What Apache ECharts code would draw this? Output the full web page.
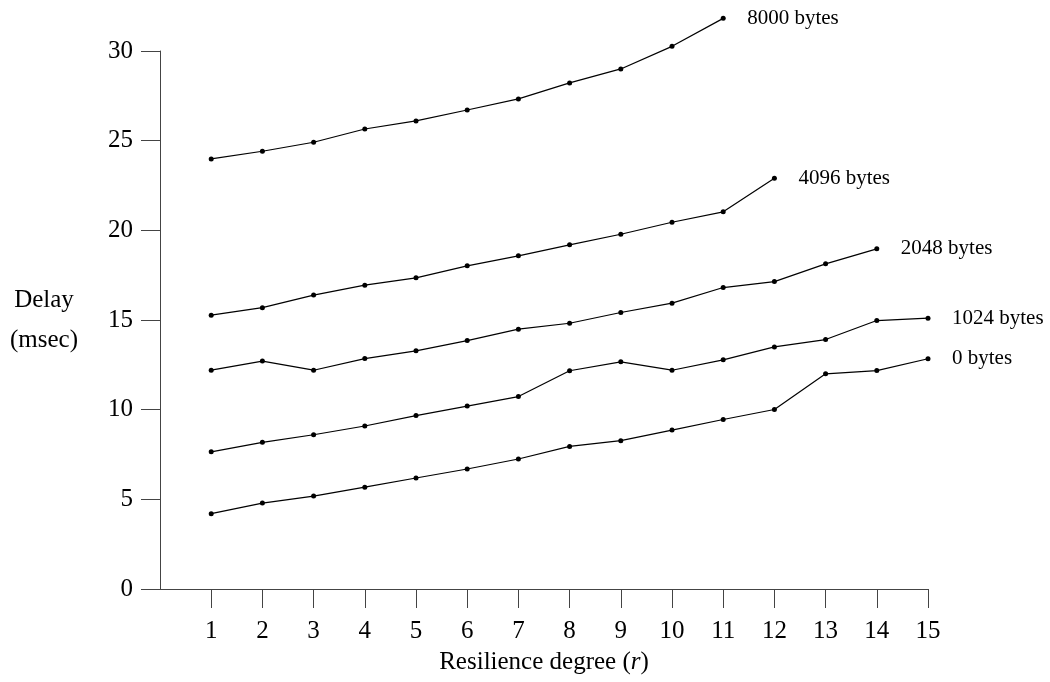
<html>
<head>
<meta charset="utf-8">
<script src="https://cdn.jsdelivr.net/npm/echarts@6/dist/echarts.min.js"></script>
<style>
  body { margin: 0; background: #fff; }
  #container { width: 1050px; height: 682px; }
</style>
</head>
<body>
<div id="container"></div>
<script>
  // resilience degree r
  const degrees = [1, 2, 3, 4, 5, 6, 7, 8, 9, 10, 11, 12, 13, 14, 15];
  const yTicks = [0, 5, 10, 15, 20, 25, 30];

  // delay (msec) per message size
  const bytes0    = [4.20, 4.79, 5.18, 5.68, 6.19, 6.69, 7.25, 7.95, 8.27, 8.86, 9.45, 10.01, 12.00, 12.18, 12.84];
  const bytes1024 = [7.65, 8.18, 8.60, 9.09, 9.67, 10.20, 10.73, 12.17, 12.67, 12.20, 12.78, 13.50, 13.91, 14.97, 15.10];
  const bytes2048 = [12.20, 12.71, 12.20, 12.85, 13.28, 13.85, 14.49, 14.82, 15.42, 15.94, 16.81, 17.14, 18.13, 18.97];
  const bytes4096 = [15.27, 15.69, 16.39, 16.94, 17.35, 18.02, 18.58, 19.19, 19.78, 20.45, 21.03, 22.91];
  const bytes8000 = [23.98, 24.41, 24.91, 25.65, 26.10, 26.71, 27.33, 28.22, 29.00, 30.26, 31.82];

  const seriesNames = ['0 bytes', '1024 bytes', '2048 bytes', '4096 bytes', '8000 bytes'];
  const seriesValues = [bytes0, bytes1024, bytes2048, bytes4096, bytes8000];

  const FONT = "'Liberation Serif', 'Times New Roman', serif";

  function buildSeries(name, values) {
    return {
      name: name,
      type: 'line',
      data: values.map((v, i) => [degrees[i], v]),
      symbol: 'circle',
      symbolSize: 5,
      clip: false,
      lineStyle: { color: '#000', width: 1.2 },
      itemStyle: { color: '#000' },
      endLabel: {
        show: true,
        formatter: name,
        distance: 24,
        color: '#000',
        fontFamily: FONT,
        fontSize: 21
      },
      animation: false
    };
  }

  let mychart = echarts.init(document.getElementById('container'));

  var option = {
    animation: false,
    grid: { left: 160, right: 122, top: 51, bottom: 93 },
    xAxis: {
      type: 'value',
      min: 0,
      max: 15,
      interval: 1,
      splitLine: { show: false },
      axisLine: { show: true, lineStyle: { color: '#444', width: 1 } },
      axisTick: { show: true, length: 19, customValues: degrees, lineStyle: { color: '#444' } },
      axisLabel: { customValues: degrees, margin: 30, color: '#000', fontFamily: FONT, fontSize: 25 },
      name: '{a|Resilience degree (}{i|r}{a|)}',
      nameLocation: 'middle',
      nameGap: 61,
      nameTextStyle: {
        rich: {
          a: { fontFamily: FONT, fontSize: 25, color: '#000' },
          i: { fontFamily: FONT, fontSize: 25, fontStyle: 'italic', color: '#000' }
        }
      }
    },
    yAxis: {
      type: 'value',
      min: yTicks[0],
      max: yTicks[yTicks.length - 1],
      interval: 5,
      splitLine: { show: false },
      axisLine: { show: true, lineStyle: { color: '#444', width: 1 } },
      axisTick: { show: true, length: 19, lineStyle: { color: '#444' } },
      axisLabel: { margin: 27, color: '#000', fontFamily: FONT, fontSize: 25 },
      name: 'Delay\n(msec)',
      nameLocation: 'middle',
      nameRotate: 0,
      nameGap: 116,
      nameTextStyle: {
        align: 'center',
        verticalAlign: 'middle',
        lineHeight: 40,
        color: '#000',
        fontFamily: FONT,
        fontSize: 25
      }
    },
    series: []
  };

  seriesNames.forEach((name, index) => {
    option.series.push(buildSeries(name, seriesValues[index]));
  });

  mychart.setOption(option);
</script>
</body>
</html>
